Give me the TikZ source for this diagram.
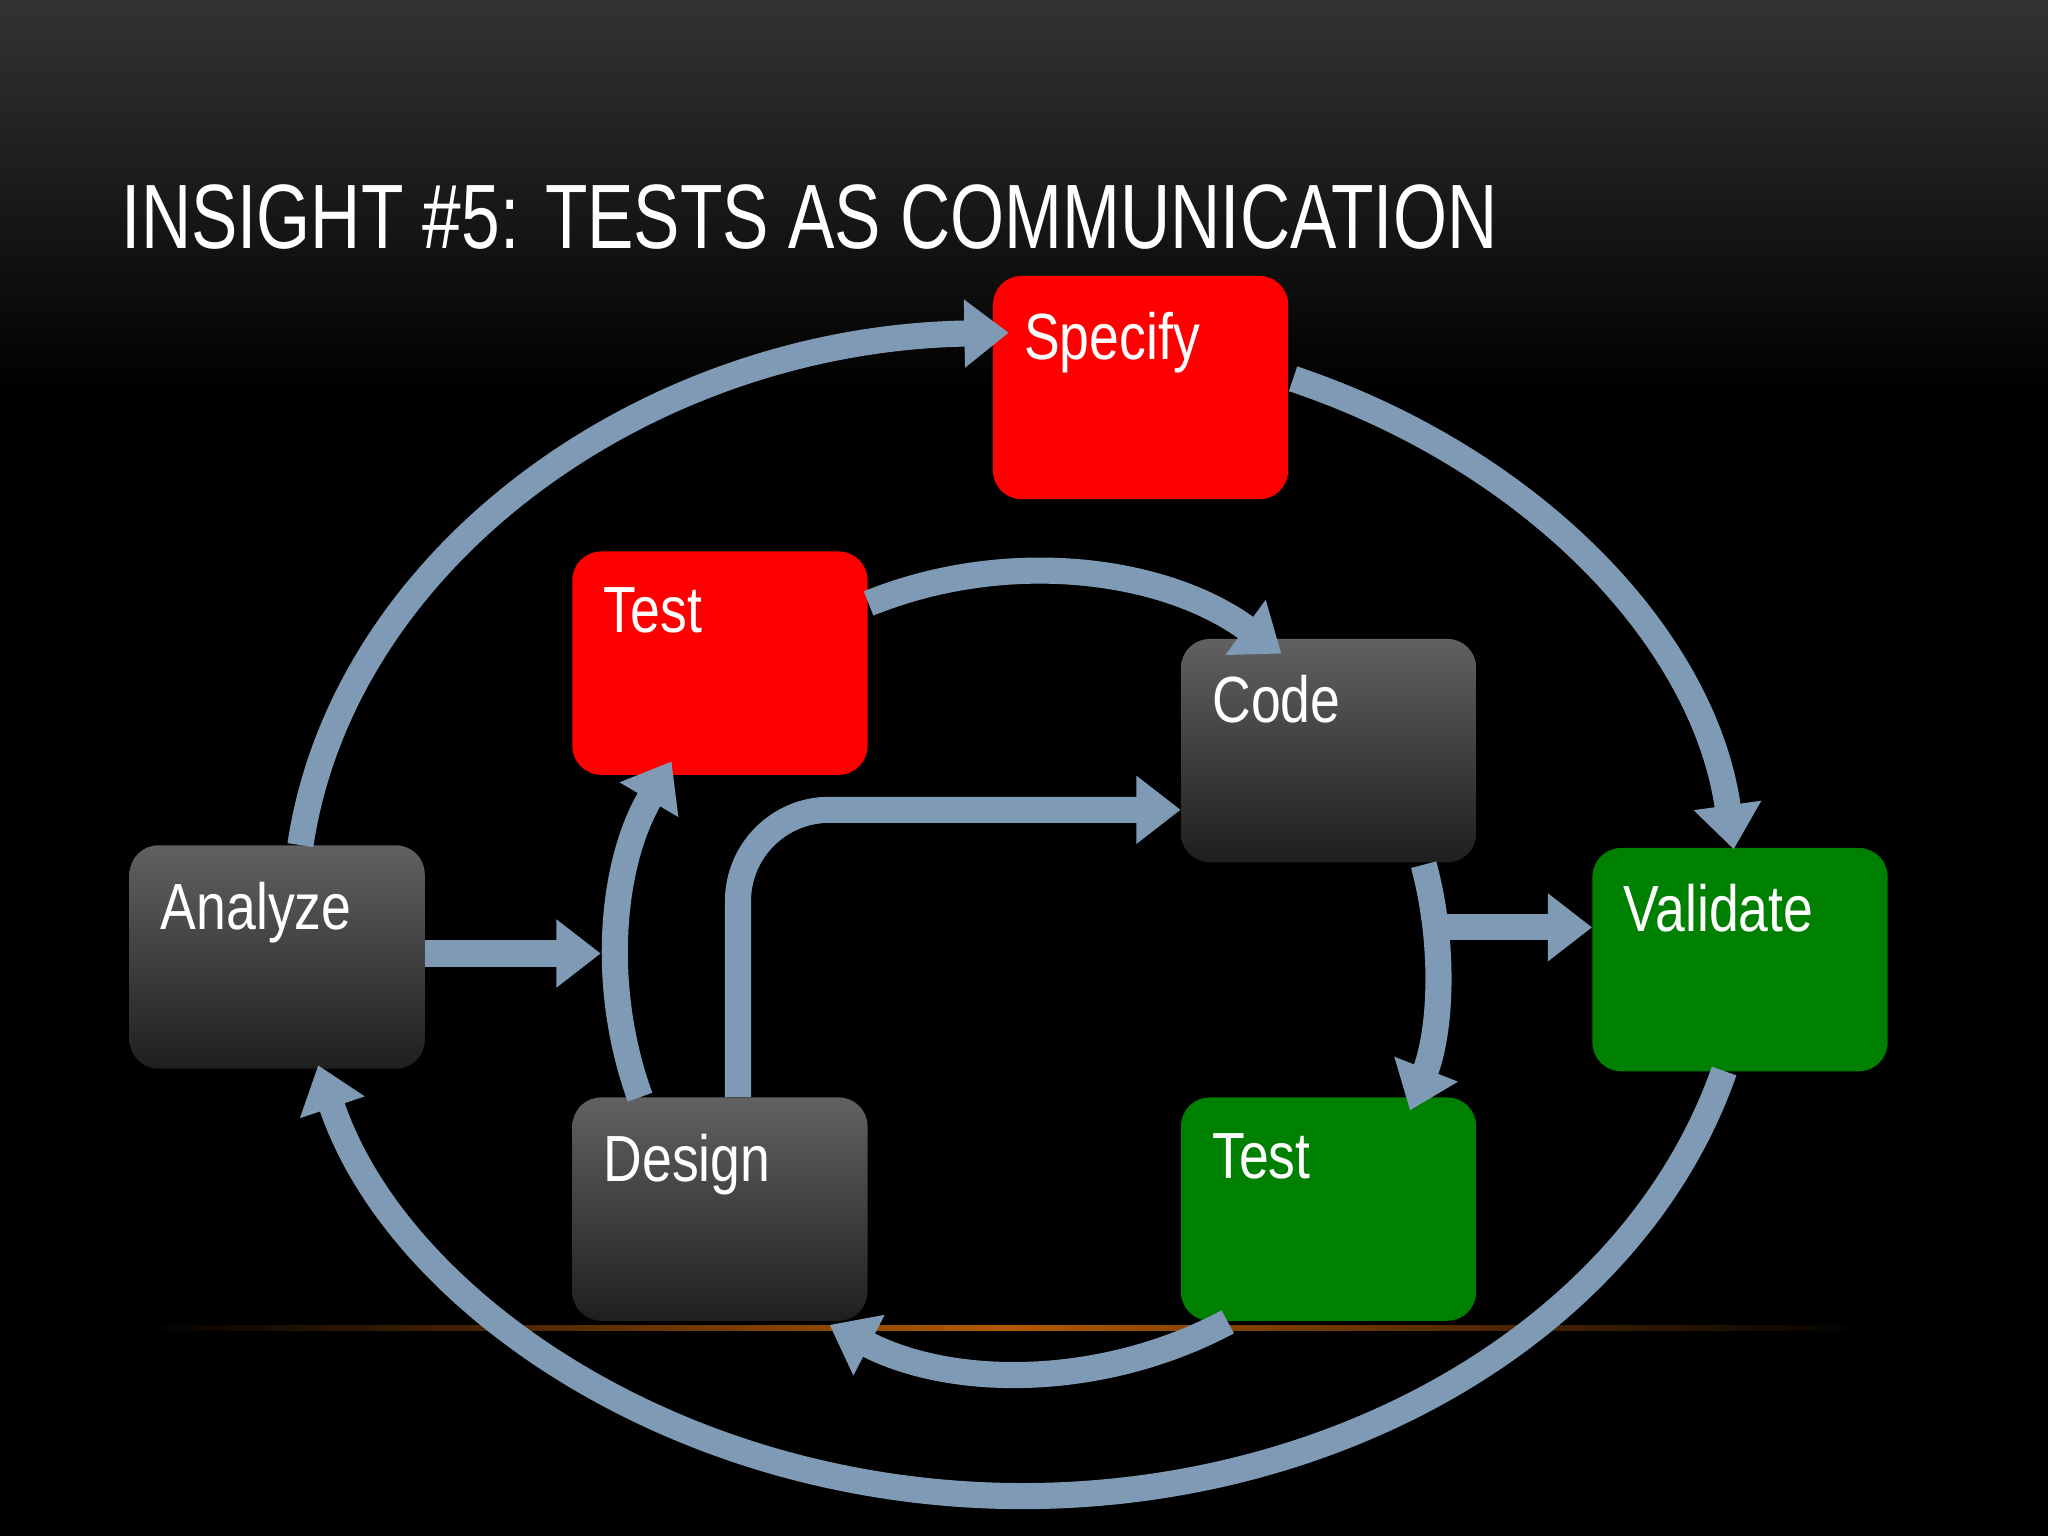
\documentclass[tikz,border=0pt]{standalone}
\usepackage{fontspec}
\setmainfont{Liberation Sans}[FakeStretch=0.82]
\newfontfamily\titlefont{Liberation Sans}[FakeStretch=0.76]
\usetikzlibrary{arrows.meta}
\definecolor{ln}{HTML}{7F9AB5}
\tikzset{
  box/.style={rounded corners=22pt, minimum width=226pt, minimum height=171pt, anchor=north west, inner sep=0pt},
  lab/.style={label={[anchor=north west,text=white,font=\fontsize{50}{52}\selectfont,inner sep=0pt,xshift=24pt,yshift=-28pt]north west:#1}},
  redbox/.style={box, fill={rgb,255:red,255;green,0;blue,0}},
  greenbox/.style={box, fill={rgb,255:red,0;green,128;blue,0}},
  graybox/.style={box, top color=black!62, bottom color=black!88},
  conn/.style={draw=ln, line width=20pt, -{Triangle[width=50pt,length=34pt]}},
}
\begin{document}
\begin{tikzpicture}[x=1pt,y=-1pt]
\useasboundingbox (0,0) rectangle (1568,1176);
\shade[top color=black!80, bottom color=black] (0,0) rectangle (1568,300);
\fill[black] (0,300) rectangle (1568,1176);
\shade[left color=black, right color=black, middle color=orange!70!black] (110,1015) rectangle (1430,1019);
\node[anchor=base west, text=white, font=\titlefont\fontsize{70}{74}\selectfont, inner sep=0pt] (title) at (93,190) {INSIGHT \#5: TESTS AS COMMUNICATION};

\node[redbox, lab=Specify] (spec) at (760,211) {};
\node[redbox, lab=Test] (ttop) at (438,422) {};
\node[graybox, lab=Code] (code) at (904,489) {};
\node[graybox, lab=Analyze] (ana) at (99,647) {};
\node[greenbox, lab=Validate] (val) at (1219,649) {};
\node[graybox, lab=Design] (des) at (438,840) {};
\node[greenbox, lab=Test] (tbot) at (904,840) {};

% outer ring, centre (782,700), radii 558 x 445
\draw[conn] (230,647) arc[start angle=186.8, end angle=268.8, x radius=558, y radius=445];
\draw[conn] (990,290) arc[start angle=292.9, end angle=353.6, x radius=558, y radius=445];
\draw[conn] (1320,820) arc[start angle=15.6, end angle=165, x radius=558, y radius=445];
% inner ring, centre (785,740), radii 320 x 310
\draw[conn] (665,462) arc[start angle=247.3, end angle=307, x radius=320, y radius=310];
\draw[conn] (1090,662) arc[start angle=-14.6, end angle=20.8, x radius=320, y radius=310];
\draw[conn] (940,1012) arc[start angle=61.1, end angle=118, x radius=320, y radius=310];
\draw[conn] (490,840) arc[start angle=160.6, end angle=209.8, x radius=320, y radius=310];
% straight
\draw[conn] (ana.east |- 0,730) -- (460,730);
\draw[conn] (1105,710) -- (val.west |- 0,710);
\draw[conn, rounded corners=70pt] (565,840) -- (565,620) -- (code.west |- 0,620);
\end{tikzpicture}
\end{document}
